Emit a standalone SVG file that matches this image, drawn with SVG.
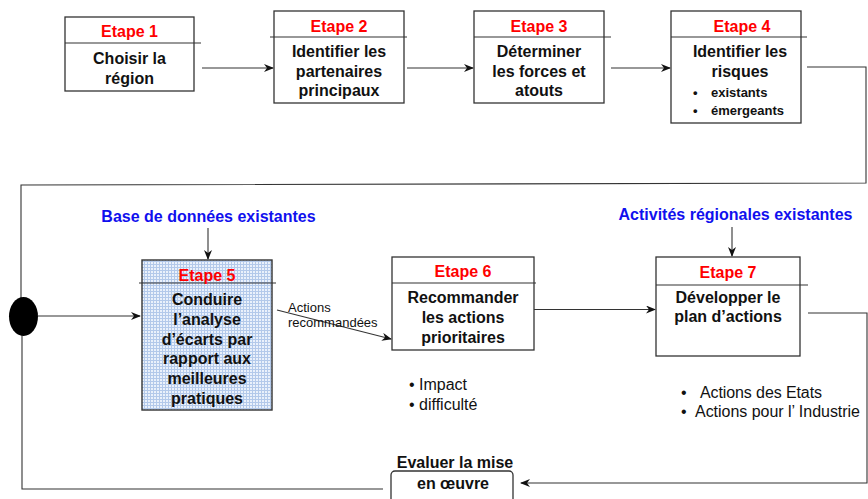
<svg xmlns="http://www.w3.org/2000/svg" width="868" height="499" viewBox="0 0 868 499">
<style>
.box{fill:#fff;stroke:#333;stroke-width:1.3}
.div{stroke:#333;stroke-width:1.2}
.et{font-family:"Liberation Sans",Arial,sans-serif;font-weight:bold;font-size:16px;fill:#ff0000;text-anchor:middle}
.tx{font-family:"Liberation Sans",Arial,sans-serif;font-weight:bold;font-size:16px;fill:#111;text-anchor:middle}
.sm{font-family:"Liberation Sans",Arial,sans-serif;font-weight:bold;font-size:13px;fill:#111}
.bl{font-family:"Liberation Sans",Arial,sans-serif;font-weight:bold;font-size:16px;fill:#1010ee;text-anchor:middle}
.rg{font-family:"Liberation Sans",Arial,sans-serif;font-size:16px;fill:#111}
.lb{font-family:"Liberation Sans",Arial,sans-serif;font-size:13px;fill:#111}
.ln{fill:none;stroke:#333;stroke-width:1.1}
.ar{fill:none;stroke:#333;stroke-width:1.1;marker-end:url(#ah)}
</style>
<defs>
<marker id="ah" viewBox="0 0 10 8" refX="9" refY="4" markerWidth="10" markerHeight="8" markerUnits="userSpaceOnUse" orient="auto">
<path d="M0,0 L10,4 L0,8 L3,4 z" fill="#111"/>
</marker>
<pattern id="grid" width="3" height="3" patternUnits="userSpaceOnUse">
<rect width="3" height="3" fill="#eaf1fb"/>
<path d="M0,0.5 H3 M0.5,0 V3" stroke="#b3c9ea" stroke-width="1"/>
</pattern>
</defs>

<g id="connectors">
<line class="ar" x1="202" y1="68" x2="273" y2="68"/>
<line class="ar" x1="407" y1="68" x2="473" y2="68"/>
<line class="ar" x1="611" y1="68" x2="670" y2="68"/>
<polyline class="ln" points="807,67 866,67 866,183 21,185 21,298"/>
<polyline class="ln" points="22,335 22,489 383,489"/>
<line class="ar" x1="38" y1="316" x2="140" y2="316"/>
<line class="ar" x1="208" y1="228" x2="208" y2="259"/>
<line class="ar" x1="277" y1="310" x2="391" y2="339"/>
<line class="ar" x1="534" y1="309.5" x2="655" y2="309.5"/>
<line class="ar" x1="732" y1="227" x2="732" y2="256"/>
<polyline class="ar" points="808,313 867,313 867,483 521,483"/>
</g>

<g id="merge">
<ellipse cx="23.5" cy="316.5" rx="14.5" ry="19.5" fill="#000"/>
</g>

<g id="etape1">
<rect class="box" x="65" y="17" width="129" height="74"/>
<line class="div" x1="65" y1="43" x2="201" y2="43"/>
<text class="et" x="129.5" y="37">Etape 1</text>
<text class="tx" x="129.5" y="64">Choisir la</text>
<text class="tx" x="129.5" y="84">région</text>
</g>

<g id="etape2">
<rect class="box" x="274" y="11" width="130" height="92"/>
<line class="div" x1="270" y1="37" x2="407" y2="37"/>
<text class="et" x="339" y="32">Etape 2</text>
<text class="tx" x="339" y="57">Identifier les</text>
<text class="tx" x="339" y="77">partenaires</text>
<text class="tx" x="339" y="96">principaux</text>
</g>

<g id="etape3">
<rect class="box" x="474" y="11" width="130" height="92"/>
<line class="div" x1="474" y1="37" x2="611" y2="37"/>
<text class="et" x="539" y="32">Etape 3</text>
<text class="tx" x="539" y="57">Déterminer</text>
<text class="tx" x="539" y="77">les forces et</text>
<text class="tx" x="539" y="96">atouts</text>
</g>

<g id="etape4">
<rect class="box" x="671" y="11" width="130" height="112"/>
<line class="div" x1="671" y1="37" x2="807" y2="37"/>
<text class="et" x="742" y="32">Etape 4</text>
<text class="tx" x="740" y="57">Identifier les</text>
<text class="tx" x="740" y="77">risques</text>
<text class="sm" x="693" y="97">•</text>
<text class="sm" x="711" y="97">existants</text>
<text class="sm" x="693" y="115">•</text>
<text class="sm" x="711" y="115">émergeants</text>
</g>

<g id="source-db">
<text class="bl" x="208.5" y="222">Base de données existantes</text>
</g>

<g id="etape5">
<rect x="142" y="260" width="130" height="150" fill="url(#grid)" stroke="#333" stroke-width="1.4"/>
<line class="div" x1="139" y1="283" x2="276" y2="283"/>
<text class="et" x="207" y="281">Etape 5</text>
<text class="tx" x="207" y="305">Conduire</text>
<text class="tx" x="207" y="325">l’analyse</text>
<text class="tx" x="207" y="345">d’écarts par</text>
<text class="tx" x="207" y="364">rapport aux</text>
<text class="tx" x="207" y="384">meilleures</text>
<text class="tx" x="207" y="404">pratiques</text>
</g>

<g id="label-actions">
<text class="lb" x="288" y="312">Actions</text>
<text class="lb" x="288" y="327">recommandées</text>
</g>

<g id="etape6">
<rect class="box" x="392" y="257" width="142" height="93"/>
<line class="div" x1="392" y1="283" x2="536" y2="283"/>
<text class="et" x="463" y="277">Etape 6</text>
<text class="tx" x="463" y="303">Recommander</text>
<text class="tx" x="463" y="323">les actions</text>
<text class="tx" x="463" y="343">prioritaires</text>
</g>

<g id="criteria6">
<text class="rg" x="409" y="390">• Impact</text>
<text class="rg" x="409" y="410">• difficulté</text>
</g>

<g id="source-act">
<text class="bl" x="735.5" y="220">Activités régionales existantes</text>
</g>

<g id="etape7">
<rect class="box" x="656" y="257" width="144" height="99"/>
<line class="div" x1="656" y1="285" x2="808" y2="285"/>
<text class="et" x="728" y="278">Etape 7</text>
<text class="tx" x="728" y="303">Développer le</text>
<text class="tx" x="728" y="322">plan d’actions</text>
</g>

<g id="criteria7">
<text class="rg" x="681" y="398">•</text>
<text class="rg" x="700" y="398" textLength="122" lengthAdjust="spacing">Actions des Etats</text>
<text class="rg" x="681" y="417">•</text>
<text class="rg" x="695" y="417" textLength="165" lengthAdjust="spacing">Actions pour l’ Industrie</text>
</g>

<g id="evaluer">
<rect class="box" x="391" y="471" width="122" height="40" rx="4"/>
<text class="tx" x="455" y="468">Evaluer la mise</text>
<text class="tx" x="453" y="489">en œuvre</text>
</g>
</svg>
